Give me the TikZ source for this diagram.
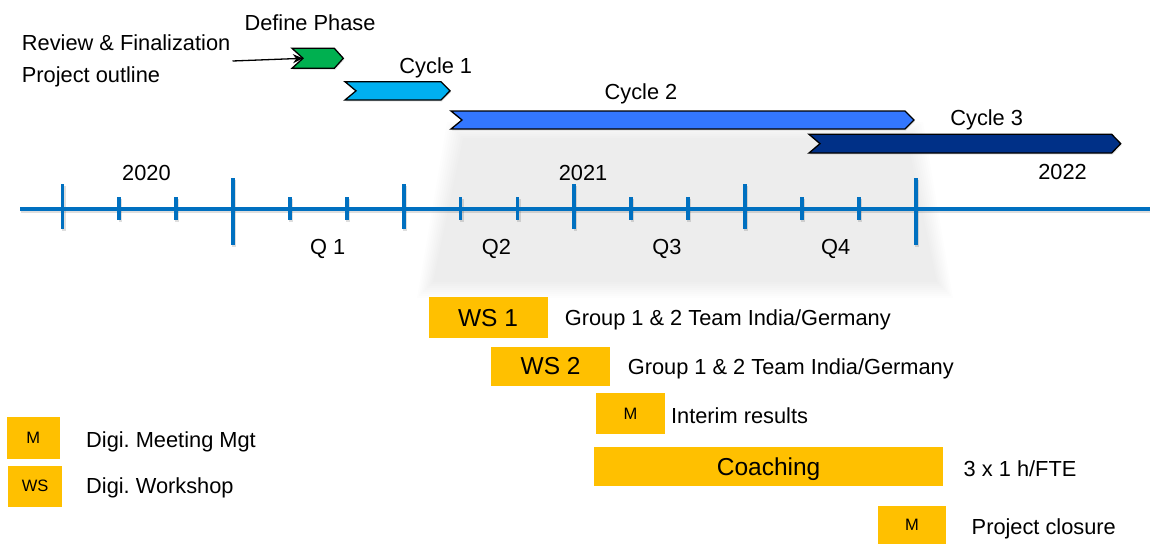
\documentclass[tikz,border=0pt]{standalone}
\usepackage{fontspec}
\setmainfont{Liberation Sans}
\frenchspacing
\usetikzlibrary{arrows.meta,shadows}

\definecolor{tlblue}{HTML}{0070C0}
\definecolor{msgold}{HTML}{FFC000}
\definecolor{phgreen}{HTML}{00B050}
\definecolor{cyone}{HTML}{00B0F0}
\definecolor{cytwo}{HTML}{3377FF}
\definecolor{cythree}{HTML}{003087}

% chevron-shaped phase bar: name, colour, left, right, top, bottom
\newcommand{\chevbar}[6]{%
  \path[bar, fill=#2] (#3,#5) -- ({#4-9},#5) -- (#4,{(#5+#6)/2}) -- ({#4-9},#6)
     -- (#3,#6) -- ({#3+11},{(#5+#6)/2}) -- cycle;
  \coordinate (#1) at ({#3+11},{(#5+#6)/2});}

% time axis with quarter/month ticks, drawn in the given style
\newcommand{\timeaxis}[1]{%
  \draw[#1, line width=4.5] (20,209) -- (1150,209);
  \foreach \k in {3,15}
    \draw[#1, line width=3.8] ({62.4+56.88*\k},178) -- ({62.4+56.88*\k},245);
  \foreach \k in {0,6,9,12}
    \draw[#1, line width=3.8] ({62.4+56.88*\k},184) -- ({62.4+56.88*\k},229);
  \foreach \k in {1,2,4,5,7,8,10,11,13,14}
    \draw[#1, line width=3.8] ({62.4+56.88*\k},197) -- ({62.4+56.88*\k},220);}

\tikzset{
  lbl/.style={font=\fontsize{21.8}{26}\selectfont, inner sep=0, text=black, yshift=-1.5pt},
  biglbl/.style={font=\fontsize{24.5}{29}\selectfont, text=black, text depth=0pt},
  smalllbl/.style={font=\fontsize{16.5}{20}\selectfont, text=black},
  gbox/.style={fill=msgold, inner sep=0},
  bar/.style={draw=black, line width=1.3, line join=miter,
    drop shadow={shadow xshift=1pt, shadow yshift=-1.5pt, opacity=0.18}},
  axmain/.style={draw=tlblue},
  axshadow/.style={draw=black, draw opacity=0.13, shift={(1.2,2)}},
}

\begin{document}
\begin{tikzpicture}[x=1pt, y=-1pt]
\useasboundingbox (0,0) rectangle (1150,544);

% soft grey highlight behind the 2021 part of the axis
\foreach \d in {-8,-6,...,8}
  \fill[black, fill opacity=0.0095]
    ({455-\d},{130-\d}) -- ({915+\d},{130-\d}) -- ({945+\d},{290+\d}) -- ({425-\d},{290+\d}) -- cycle;

% phase bars
\chevbar{defnotch}{phgreen}{292}{343.3}{48.3}{68.3}
\chevbar{cyonenotch}{cyone}{345}{450}{81.7}{100}
\chevbar{cytwonotch}{cytwo}{451}{914}{111}{129}
\chevbar{cythreenotch}{cythree}{809}{1120.7}{134.3}{153}

\node[lbl] (definelbl) at (310,21.7) {Define Phase};
\node[lbl] (cyonelbl) at (435.8,66.5) {Cycle 1};
\node[lbl] (cytwolbl) at (641,92) {Cycle 2};
\node[lbl] (cythreelbl) at (986.7,118) {Cycle 3};

\node[lbl, align=left, anchor=west, inner xsep=2pt, font=\fontsize{21.8}{32.5}\selectfont]
  (review) at (19.7,59.5) {Review \& Finalization\\Project outline};
\draw[-{Stealth[length=10pt, width=9pt]}, line width=1.3] (review.east) -- (defnotch);

% time axis
\timeaxis{axshadow}
\timeaxis{axmain}

\node[lbl] (yeara) at (146.4,171) {2020};
\node[lbl] (yearb) at (583,171) {2021};
\node[lbl] (yearc) at (1062.5,170) {2022};
\node[lbl] (qa) at (327.6,247) {Q 1};
\node[lbl] (qb) at (496.4,247) {Q2};
\node[lbl] (qc) at (667,247) {Q3};
\node[lbl] (qd) at (835.7,247) {Q4};

% activities
\node[gbox, biglbl, minimum width=119, minimum height=40.5] (wsone) at (488,317.5) {WS 1};
\node[lbl, anchor=west] (wsonetxt) at (564.6,318) {Group 1 \& 2 Team India/Germany};
\node[gbox, biglbl, minimum width=118.4, minimum height=39] (wstwo) at (550.6,366.2) {WS 2};
\node[lbl, anchor=west] (wstwotxt) at (627.6,367) {Group 1 \& 2 Team India/Germany};
\node[gbox, smalllbl, minimum width=68.3, minimum height=40.7] (interim) at (630.5,413.7) {M};
\node[lbl, anchor=west] (interimtxt) at (670.9,414) {Interim results};
\node[gbox, biglbl, minimum width=348.3, minimum height=39] (coach) at (768.6,466.2) {Coaching};
\node[lbl, anchor=west] (coachtxt) at (963.5,467) {3 x 1 h/FTE};
\node[gbox, smalllbl, minimum width=68, minimum height=38] (closure) at (912,525) {M};
\node[lbl, anchor=west] (closuretxt) at (971.5,527) {Project closure};

% legend
\node[gbox, smalllbl, minimum width=53.3, minimum height=41.7] (legm) at (33.3,438.2) {M};
\node[lbl, anchor=west] (legmtxt) at (86,440) {Digi. Meeting Mgt};
\node[gbox, smalllbl, minimum width=53.7, minimum height=40.7] (legws) at (35.2,486.3) {WS};
\node[lbl, anchor=west] (legwstxt) at (86,486) {Digi. Workshop};
\end{tikzpicture}
\end{document}
